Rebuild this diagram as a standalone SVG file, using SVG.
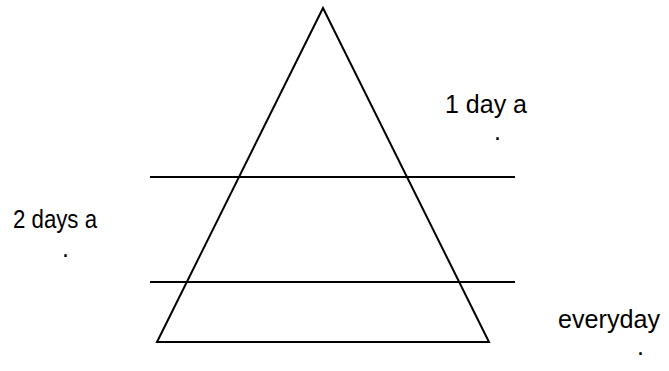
<svg xmlns="http://www.w3.org/2000/svg" width="669" height="371" viewBox="0 0 669 371">
<style>
.ln{stroke:#000;stroke-width:2;fill:none}
.t{font-family:"Liberation Sans",Arial,sans-serif;font-size:25px;fill:#000}
</style>
<rect width="669" height="371" fill="#fff"/>
<g id="pyramid">
<polygon class="ln" points="323,8 157,342 489,342"/>
</g>
<g id="connectors">
<line class="ln" x1="150" y1="177" x2="515" y2="177"/>
<line class="ln" x1="150" y1="282" x2="515" y2="282"/>
</g>
<g id="label1">
<text class="t" x="445" y="113" textLength="82" lengthAdjust="spacingAndGlyphs">1 day a</text>
<text class="t" x="494" y="140">.</text>
</g>
<g id="label2">
<text class="t" x="13" y="228" textLength="84" lengthAdjust="spacingAndGlyphs">2 days a</text>
<text class="t" x="62" y="257">.</text>
</g>
<g id="label3">
<text class="t" x="558" y="328" textLength="102" lengthAdjust="spacingAndGlyphs">everyday</text>
<text class="t" x="637" y="355">.</text>
</g>
</svg>
